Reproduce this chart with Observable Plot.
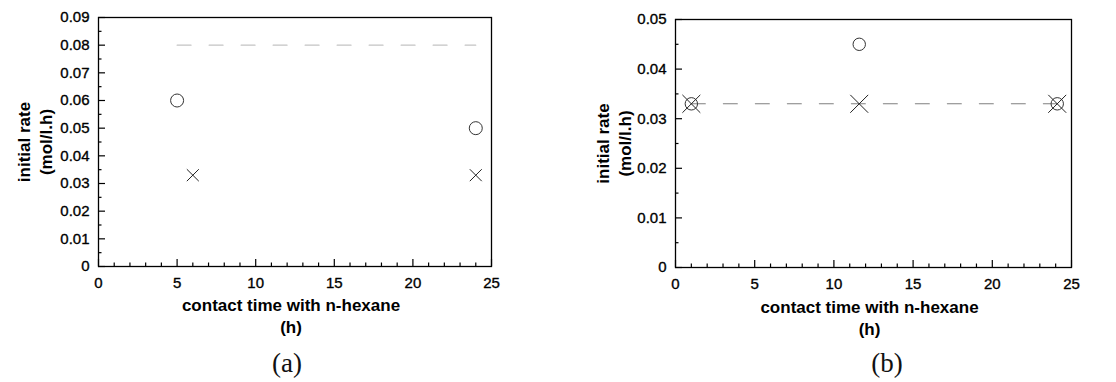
<!DOCTYPE html>
<html>
<head>
<meta charset="utf-8">
<script src="https://cdn.jsdelivr.net/npm/d3@7"></script>
<script src="https://cdn.jsdelivr.net/npm/@observablehq/plot@0.6"></script>
<style>
  html, body { margin: 0; padding: 0; background: #fff; }
  #root { position: relative; width: 1116px; height: 382px; overflow: hidden; background: #fff; }
  .panel { position: absolute; top: 0; }
  .cap { position: absolute; width: 100px; text-align: center; font-family: "Liberation Serif", "Times New Roman", serif; font-size: 27px; line-height: 30px; color: #111; }
</style>
</head>
<body>
<div id="root">
  <div id="pa" class="panel" style="left:0px"></div>
  <div id="pb" class="panel" style="left:556px"></div>
  <div class="cap" style="left:237px; top:348px">(a)</div>
  <div class="cap" style="left:837px; top:348px">(b)</div>
</div>
<script>
// ---- shared tick values ----
const xMajorTicks = [0, 5, 10, 15, 20, 25];
const xMinorTicks = [1, 2, 3, 4, 6, 7, 8, 9, 11, 12, 13, 14, 16, 17, 18, 19, 21, 22, 23, 24];
const xLabel = "contact time with n-hexane\n(h)";
const yLabel = "initial rate\n(mol/l.h)";

// ---- panel (a) ----
const aYMajorTicks = [0, 0.01, 0.02, 0.03, 0.04, 0.05, 0.06, 0.07, 0.08, 0.09];
const aYMinorTicks = [0.005, 0.015, 0.025, 0.035, 0.045, 0.055, 0.065, 0.075, 0.085];
const aCircleX = [5, 24];
const aCircleY = [0.06, 0.05];
const aCrossX = [6, 24];
const aCrossY = [0.033, 0.033];
const aLineX = [5, 24];
const aLineY = [0.08, 0.08];

// ---- panel (b) ----
const bYMajorTicks = [0, 0.01, 0.02, 0.03, 0.04, 0.05];
const bYMinorTicks = [0.005, 0.015, 0.025, 0.035, 0.045];
const bCircleX = [1, 11.6, 24.1];
const bCircleY = [0.033, 0.045, 0.033];
const bCrossX = [1, 11.6, 24.1];
const bCrossY = [0.033, 0.033, 0.033];
const bLineX = [1, 24.1];
const bLineY = [0.033, 0.033];

const zip = (xs, ys) => xs.map((x, i) => ({x, y: ys[i]}));
const yFmt = d => d === 0 ? "0" : d.toFixed(2);

function panel(cfg) {
  return Plot.plot({
    width: cfg.width, height: 340,
    marginLeft: cfg.ml, marginRight: cfg.mr, marginTop: cfg.mt, marginBottom: 340 - cfg.bottom,
    x: {domain: [0, 25]},
    y: {domain: cfg.yDomain},
    style: {fontFamily: "'Liberation Sans', Arial, sans-serif", fontSize: "15px", color: "#000", background: "#fff", overflow: "visible"},
    marks: [
      Plot.line(zip(cfg.lineX, cfg.lineY), {x: "x", y: "y", stroke: cfg.lineColor, strokeWidth: 1.1, strokeDasharray: "14,18"}),
      Plot.frame({stroke: "#000", strokeWidth: 1.3}),
      // tick labels
      Plot.axisX(xMajorTicks, {tickSize: 0, tickPadding: 11, tickFormat: d => String(d), label: null, textStroke: "#000", textStrokeWidth: 0.35}),
      Plot.axisY(cfg.yMajor, {tickSize: 0, tickPadding: 9, tickFormat: yFmt, label: null, textStroke: "#000", textStrokeWidth: 0.35}),
      // inward ticks
      Plot.axisX(xMajorTicks, {tickSize: -7, fill: "none", label: null, strokeWidth: 1.2}),
      Plot.axisX(xMinorTicks, {tickSize: -3.5, fill: "none", label: null, strokeWidth: 1.2}),
      Plot.axisY(cfg.yMajor, {tickSize: -7, fill: "none", label: null, strokeWidth: 1.2}),
      Plot.axisY(cfg.yMinor, {tickSize: -3.5, fill: "none", label: null, strokeWidth: 1.2}),
      // axis titles
      Plot.text([xLabel], {text: d => d, frameAnchor: "bottom", textAnchor: "middle", lineAnchor: "middle",
        dx: -4, dy: cfg.xLabelDy, fontSize: 17, fontWeight: "bold", lineHeight: 22 / 17}),
      Plot.text([yLabel], {text: d => d, frameAnchor: "left", textAnchor: "middle", lineAnchor: "middle",
        rotate: -90, dx: cfg.yLabelDx, fontSize: 17, fontWeight: "bold", lineHeight: 22 / 17}),
      // data markers
      Plot.dot(zip(cfg.circleX, cfg.circleY), {x: "x", y: "y", symbol: "circle", r: cfg.circleR, stroke: "#333", fill: "none", strokeWidth: 1}),
      Plot.dot(zip(cfg.crossX, cfg.crossY), {x: "x", y: "y", symbol: "times", r: cfg.crossR, stroke: "#222", strokeWidth: 1})
    ]
  });
}

document.getElementById("pa").appendChild(panel({
  width: 556, ml: 98, mr: 65, mt: 17, bottom: 266,
  yDomain: [0, 0.09], yMajor: aYMajorTicks, yMinor: aYMinorTicks,
  lineX: aLineX, lineY: aLineY, lineColor: "#c4c4c4",
  circleX: aCircleX, circleY: aCircleY, circleR: 6.5,
  crossX: aCrossX, crossY: aCrossY, crossR: 5.5,
  xLabelDy: 48, yLabelDx: -65
}));

document.getElementById("pb").appendChild(panel({
  width: 560, ml: 119, mr: 45, mt: 19, bottom: 267,
  yDomain: [0, 0.05], yMajor: bYMajorTicks, yMinor: bYMinorTicks,
  lineX: bLineX, lineY: bLineY, lineColor: "#808080",
  circleX: bCircleX, circleY: bCircleY, circleR: 6.2,
  crossX: bCrossX, crossY: bCrossY, crossR: 8.2,
  xLabelDy: 49, yLabelDx: -63
}));
</script>
</body>
</html>
